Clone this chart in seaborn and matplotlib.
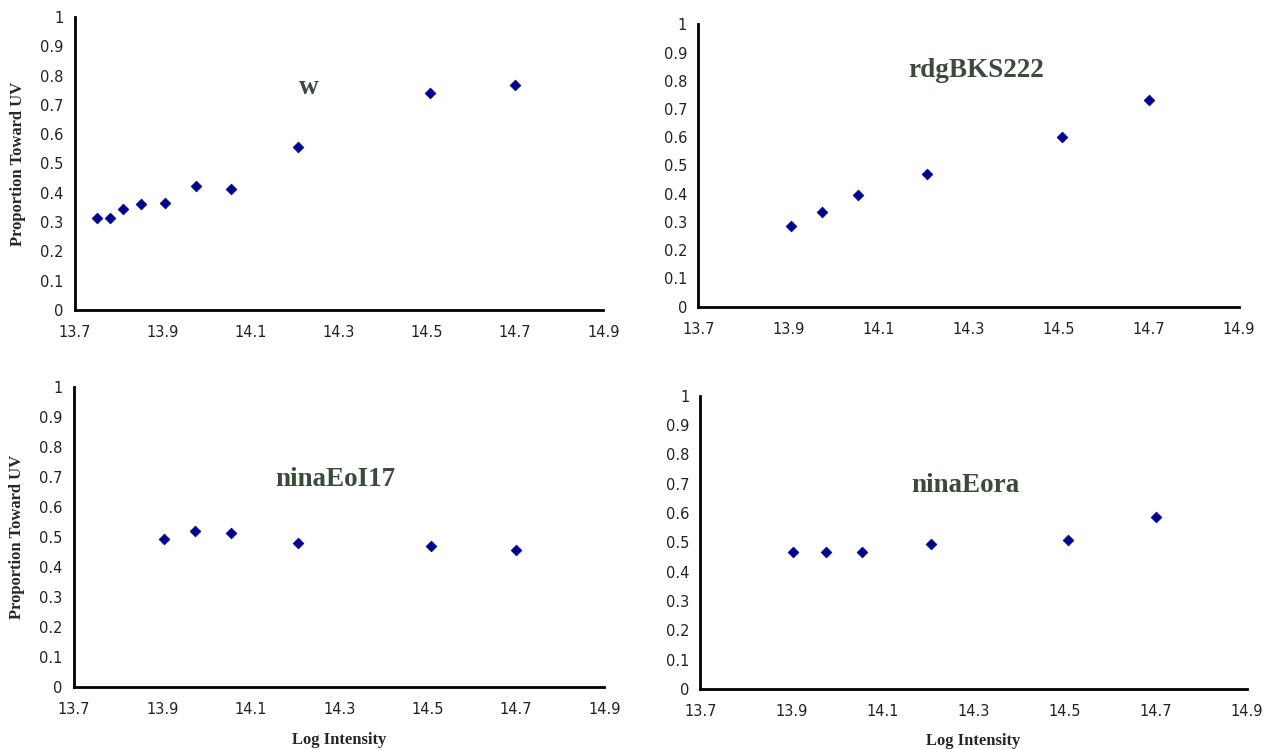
import pandas as pd
import matplotlib
matplotlib.use("Agg")
import matplotlib.pyplot as plt
import seaborn as sns

# Data
w_x = [13.75, 13.78, 13.81, 13.85, 13.905, 13.975, 14.055, 14.207, 14.507, 14.70]
w_y = [0.313, 0.315, 0.344, 0.360, 0.364, 0.424, 0.412, 0.555, 0.742, 0.768]

rdg_x = [13.905, 13.974, 14.055, 14.207, 14.507, 14.70]
rdg_y = [0.284, 0.335, 0.396, 0.471, 0.600, 0.733]

oi17_x = [13.905, 13.974, 14.055, 14.207, 14.507, 14.70]
oi17_y = [0.494, 0.522, 0.514, 0.482, 0.469, 0.458]

ora_x = [13.903, 13.975, 14.055, 14.207, 14.507, 14.70]
ora_y = [0.468, 0.466, 0.468, 0.495, 0.509, 0.585]

panel_names = ["w", "rdgBKS222", "ninaEoI17", "ninaEora"]
x_ticks = [13.7, 13.9, 14.1, 14.3, 14.5, 14.7, 14.9]
y_ticks = [0, 0.1, 0.2, 0.3, 0.4, 0.5, 0.6, 0.7, 0.8, 0.9, 1]
y_tick_labels = ["0", "0.1", "0.2", "0.3", "0.4", "0.5", "0.6", "0.7", "0.8", "0.9", "1"]

sns.set_style("white")
plt.rcParams['font.family'] = ['DejaVu Sans']

fig = plt.figure(figsize=(12.71, 7.5), dpi=100)

# axes rectangles (left, bottom, width, height) in figure fractions
rects = [
    [0.0588, 0.5867, 0.4159, 0.3907],
    [0.5494, 0.5911, 0.4253, 0.3765],
    [0.0581, 0.0840, 0.4175, 0.3996],
    [0.5511, 0.0813, 0.4299, 0.3910],
]
series = [(w_x, w_y), (rdg_x, rdg_y), (oi17_x, oi17_y), (ora_x, ora_y)]
label_pos = [(14.23, 0.76), (14.317, 0.838), (14.292, 0.691), (14.281, 0.695)]

serif = ['Liberation Serif', 'DejaVu Serif']

for i, (rect, (xs, ys), name, (lx, ly)) in enumerate(zip(rects, series, panel_names, label_pos)):
    ax = fig.add_axes(rect)
    df = pd.DataFrame({"x": xs, "y": ys})
    sns.scatterplot(data=df, x="x", y="y", ax=ax, marker="D", s=30,
                    color="#00008f", edgecolor="#00008f", linewidth=0.5)
    ax.set_xlim(13.7, 14.9)
    ax.set_ylim(0, 1)
    ax.set_xticks(x_ticks)
    ax.set_xticklabels([f"{t:.1f}" for t in x_ticks])
    ax.set_yticks(y_ticks)
    ax.set_yticklabels(y_tick_labels)
    ax.tick_params(axis="both", direction="out", length=5, width=1.5,
                   labelsize=10.5, color="black", labelcolor="#222222", pad=3)
    ax.tick_params(axis="x", pad=6)
    sns.despine(ax=ax)
    for sp in ["left", "bottom"]:
        ax.spines[sp].set_color("black")
        ax.spines[sp].set_linewidth(2)
    ax.text(lx, ly, name, ha="center", va="center", fontsize=19.5,
            fontweight="bold", family=serif, color="#3b4a3b")
    if i % 2 == 0:
        ax.set_ylabel("Proportion Toward UV", fontsize=12, fontweight="bold",
                      family=serif)
        ax.yaxis.set_label_coords(-0.092, 0.5)
    else:
        ax.set_ylabel("")
    if i >= 2:
        ax.set_xlabel("Log Intensity", fontsize=12, fontweight="bold",
                      family=serif)
        ax.xaxis.set_label_coords(0.5, -0.15)
    else:
        ax.set_xlabel("")

fig.savefig("out.png", dpi=100)
